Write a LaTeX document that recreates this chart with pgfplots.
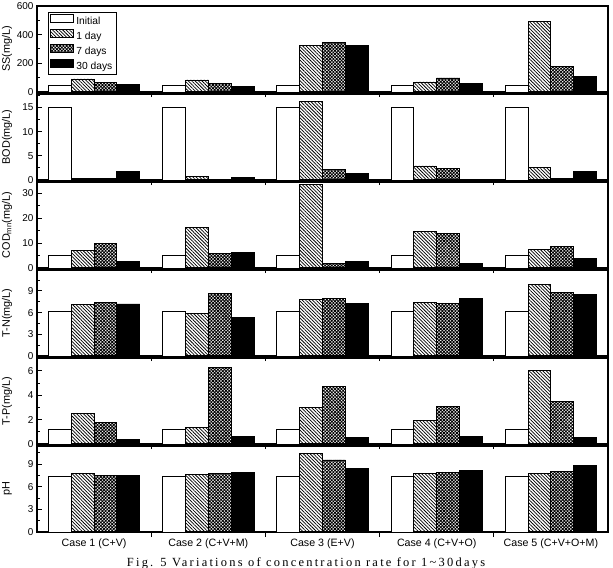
\documentclass[border=0pt]{standalone}
\usepackage{fontspec}
\setmainfont{Liberation Sans}
\newfontfamily\capfont[LetterSpace=18]{Liberation Serif}
\usepackage{pgfplots}
\usepackage{pgfplotstable}
\pgfplotsset{compat=1.18}
\usetikzlibrary{patterns,patterns.meta}

% columns: case, Initial, 1 day, 7 days, 30 days
\pgfplotstableread{
case ini d1 d7 d30
1 48 91 65 50
2 48 84 60 40
3 48 326 347 323
4 48 70 98 61
5 48 489 177 105
}\tabSS
\pgfplotstableread{
case ini d1 d7 d30
1 15 0.3 0.4 1.7
2 15 0.7 0.1 0.6
3 15 16.2 2.1 1.3
4 15 2.9 2.4 0.1
5 15 2.65 0.4 1.8
}\tabBOD
\pgfplotstableread{
case ini d1 d7 d30
1 5 7.2 9.8 2.8
2 5 16.2 6.0 6.2
3 5 33.4 2.0 2.8
4 5 14.7 13.8 2.0
5 5 7.6 8.8 3.7
}\tabCOD
\pgfplotstableread{
case ini d1 d7 d30
1 6.1 7.1 7.4 7.2
2 6.1 5.95 8.7 5.35
3 6.1 7.8 8.0 7.3
4 6.1 7.4 7.3 8.0
5 6.1 9.9 8.8 8.5
}\tabTN
\pgfplotstableread{
case ini d1 d7 d30
1 1.2 2.5 1.75 0.35
2 1.2 1.35 6.25 0.6
3 1.2 3.0 4.7 0.55
4 1.2 1.9 3.1 0.6
5 1.2 6.05 3.5 0.55
}\tabTP
\pgfplotstableread{
case ini d1 d7 d30
1 7.35 7.7 7.5 7.5
2 7.35 7.6 7.7 7.9
3 7.35 10.4 9.55 8.4
4 7.35 7.7 7.9 8.1
5 7.35 7.7 8.0 8.8
}\tabPH

\pgfplotsset{
  panel/.style={
    width=571bp, height=86bp, scale only axis,
    anchor=south west,
    xmin=0.5, xmax=5.5, ymin=0,
    axis line style={line width=1.1bp},
    tick align=inside, tick pos=left,
    xtick={1.5,2.5,3.5,4.5}, xticklabels={},
    minor y tick num=1,
    major tick length=5bp, minor tick length=3bp,
    every tick/.style={black, line width=1bp},
    /pgf/number format/assume math mode=true,
    yticklabel style={font=\fontsize{10}{12}\selectfont},
    ylabel style={at={(axis description cs:-0.0525,0.5)}, anchor=center,
                  font=\fontsize{10.9}{12}\selectfont},
    ybar,
    every axis plot/.append style={bar shift=0pt, bar width=0.2,
                                   draw=black, line width=0.9bp},
  },
  sIni/.style={fill=white},
  sD1/.style={pattern={Lines[angle=-45,distance=2.4bp,line width=0.75bp]}},
  sD7/.style={pattern={Hatch[angle=45,distance=2.3bp,line width=0.85bp]}},
  sD30/.style={fill=black},
}

% four bars per case, side by side
\newcommand{\fourbars}[1]{%
  \addplot[sIni] table[x expr=\thisrow{case}-0.3, y=ini] {#1};
  \addplot[sD1]  table[x expr=\thisrow{case}-0.1, y=d1]  {#1};
  \addplot[sD7]  table[x expr=\thisrow{case}+0.1, y=d7]  {#1};
  \addplot[sD30] table[x expr=\thisrow{case}+0.3, y=d30] {#1};
}

\begin{document}
\begin{tikzpicture}[x=1bp,y=1bp]
\useasboundingbox (0,0) rectangle (613,-568);

\begin{axis}[panel, at={(37bp,-92bp)}, ymax=600, ytick={0,200,400,600},
  ylabel={SS(mg/L)},
  legend image code/.code={\draw[#1,/tikz/.cd,yshift=-0.5bp] (0bp,0bp) rectangle (23bp,8bp);},
  legend style={at={(axis description cs:0.0193,0.93)}, anchor=north west,
    draw=black, line width=0.9bp, inner sep=1.5bp, row sep=0.8bp,
    font=\fontsize{10.3}{11}\selectfont, cells={anchor=west},
    nodes={inner ysep=1.5bp, inner xsep=2.5bp, text height=7.5bp, text depth=2bp}},
  legend cell align=left]
\fourbars{\tabSS}
\legend{Initial,1 day,7 days,30 days}
\end{axis}

\begin{axis}[panel, at={(37bp,-180bp)}, ymax=17.8, ytick={0,5,...,20},
  ylabel={BOD(mg/L)}]
\fourbars{\tabBOD}
\end{axis}

\begin{axis}[panel, at={(37bp,-268bp)}, ymax=34.5, ytick={0,10,20,30},
  ylabel={COD\textsubscript{mn}(mg/L)}]
\fourbars{\tabCOD}
\end{axis}

\begin{axis}[panel, at={(37bp,-356bp)}, ymax=11.9, ytick={0,3,...,12},
  ylabel={T-N(mg/L)}]
\fourbars{\tabTN}
\end{axis}

\begin{axis}[panel, at={(37bp,-444bp)}, ymax=7.05, ytick={0,2,4,6},
  ylabel={T-P(mg/L)}]
\fourbars{\tabTP}
\end{axis}

\begin{axis}[panel, at={(37bp,-532bp)}, ymax=11.4, ytick={0,3,...,12},
  ylabel={pH},
  extra x ticks={1,2,3,4,5},
  extra x tick labels={Case 1 (C+V),Case 2 (C+V+M),Case 3 (E+V),Case 4 (C+V+O),Case 5 (C+V+O+M)},
  extra x tick style={major tick length=0pt,
    xticklabel style={font=\fontsize{10.7}{12}\selectfont, yshift=-3.5bp}}]
\fourbars{\tabPH}
\end{axis}

\node[font=\capfont\fontsize{12.5}{14}\selectfont, anchor=base] at (306,-566)
  {Fig. 5 Variations of concentration rate for 1\textasciitilde 30days};
\end{tikzpicture}
\end{document}
